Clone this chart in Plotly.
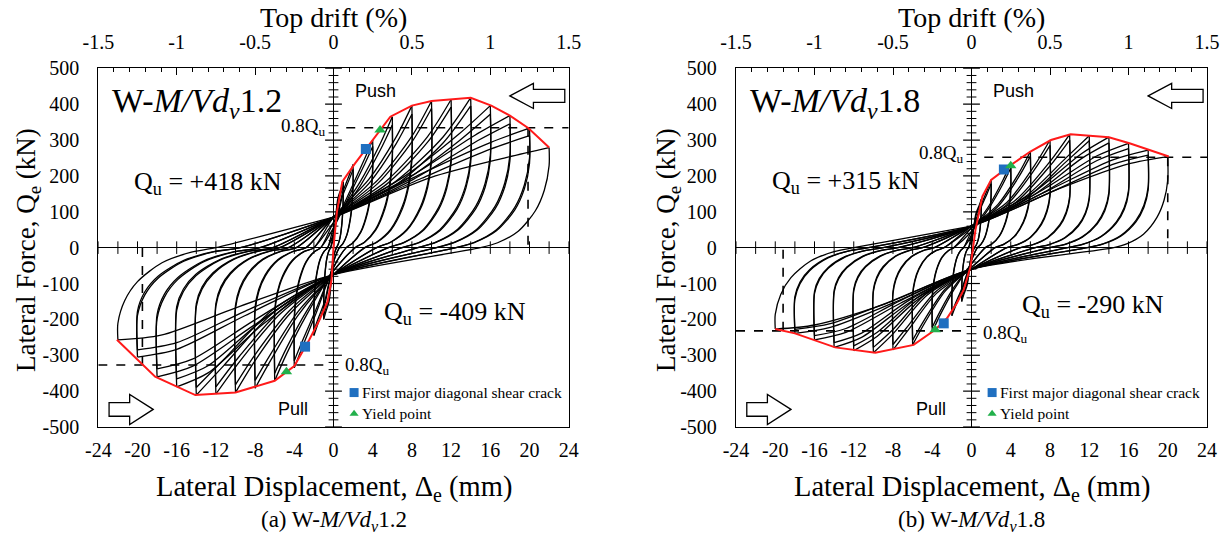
import plotly.graph_objects as go

SERIF = "Liberation Serif"
SANS = "Liberation Sans"

# ---------------- Panel (a): W-M/Vdv1.2 ----------------
a_levels = [1, 2, 4, 6, 8, 10, 12, 14, 16, 18, 20, 22]
a_pos_peak1 = [184, 232, 300, 365, 396, 409, 413, 418, 396, 368, 333, 279]
a_pos_peak2 = [172, 218, 282, 342, 372, 388, 392, 395, 372, 345, 312, None]
a_neg_peak1 = [-200, -245, -335, -371, -392, -404, -408, -411, -388, -360, -305, -257]
a_neg_peak2 = [-188, -230, -315, -350, -370, -382, -388, -390, -366, -338, -285, None]
a_pos_zero = [0.3, 0.6, 1.3, 2.2, 3.2, 4.4, 5.6, 7.0, 8.6, 10.5, 12.5, 15.0]
a_neg_zero = [-0.3, -0.6, -1.3, -2.0, -2.8, -3.8, -4.6, -5.5, -6.2, -7.5, -9.5, -12.0]
a_pos_drop = [0.85, 0.8, 0.75, 0.7, 0.65, 0.62, 0.6, 0.6, 0.65, 0.7, 0.75, 0.82]
a_neg_drop = [0.8, 0.7, 0.6, 0.5, 0.45, 0.42, 0.4, 0.4, 0.45, 0.55, 0.62, 0.82]
a_pos_mid = [0.75, 0.65, 0.55, 0.5, 0.48, 0.46, 0.45, 0.44, 0.5, 0.55, 0.62, 0.7]
a_pos_near = [0.9, 0.87, 0.83, 0.8, 0.78, 0.76, 0.75, 0.74, 0.8, 0.85, 0.88, 0.9]
a_neg_mid = [0.75, 0.65, 0.55, 0.5, 0.48, 0.46, 0.45, 0.45, 0.55, 0.6, 0.62, 0.65]
a_neg_near = [0.9, 0.87, 0.83, 0.8, 0.8, 0.78, 0.78, 0.8, 0.9, 0.92, 0.93, 0.95]
a_pos_pinch = [25, 40, 55, 70, 85, 85, 85, 85, 85, 85, 85, 85]
a_neg_pinch = [-25, -40, -55, -65, -75, -75, -75, -75, -75, -75, -75, -75]
a_env_x = [-22.1, -18.2, -14.1, -10.0, -6.0, -4.0, -2.5, -1.4, -0.6, -0.2, 0.0, 0.35, 0.9, 2.2, 5.8, 8.0, 10.0, 14.0, 16.1, 18.0, 19.9, 22.0]
a_env_y = [-257, -360, -411, -404, -371, -330, -258, -200, -150, -90, 0, 100, 184, 235, 365, 396, 409, 418, 396, 368, 333, 279]
a_qu_pos, a_qu_neg = 418, -409
a_d08_pos, a_d08_neg = 19.85, -19.5
a_crack_x, a_crack_y = [3.3, -2.9], [275, -276]
a_yield_x, a_yield_y = [4.75, -4.8], [328, -346]

# ---------------- Panel (b): W-M/Vdv1.8 ----------------
b_levels = [1, 2, 4, 6, 8, 10, 12, 14, 16, 18, 20]
b_pos_peak1 = [135, 189, 235, 268, 300, 316, 312, 308, 291, 272, 254]
b_pos_peak2 = [128, 178, 222, 255, 285, 300, 298, 292, 276, 258, None]
b_neg_peak1 = [-150, -190, -235, -271, -285, -293, -287, -278, -257, -239, -227]
b_neg_peak2 = [-142, -180, -222, -258, -270, -278, -274, -265, -245, -228, None]
b_pos_zero = [0.3, 0.6, 1.4, 2.4, 3.6, 5.0, 6.5, 8.0, 9.8, 11.8, 14.5]
b_neg_zero = [-0.3, -0.8, -1.8, -2.8, -3.8, -5.0, -6.0, -7.5, -9.0, -10.5, -12.0]
b_pos_drop = [0.85, 0.8, 0.7, 0.6, 0.5, 0.45, 0.45, 0.5, 0.55, 0.62, 0.74]
b_neg_drop = [0.8, 0.7, 0.6, 0.5, 0.45, 0.42, 0.42, 0.45, 0.5, 0.6, 0.82]
b_pos_mid = [0.7, 0.6, 0.5, 0.45, 0.42, 0.42, 0.45, 0.5, 0.55, 0.6, 0.65]
b_pos_near = [0.88, 0.85, 0.8, 0.77, 0.76, 0.76, 0.8, 0.85, 0.88, 0.9, 0.92]
b_neg_mid = [0.7, 0.6, 0.5, 0.45, 0.45, 0.45, 0.5, 0.55, 0.6, 0.65, 0.7]
b_neg_near = [0.88, 0.85, 0.8, 0.78, 0.8, 0.82, 0.86, 0.9, 0.92, 0.93, 0.95]
b_pos_pinch = [20, 35, 45, 55, 60, 60, 60, 60, 60, 60, 60]
b_neg_pinch = [-20, -35, -45, -55, -60, -60, -60, -60, -60, -60, -60]
b_env_x = [-20.0, -18.0, -13.9, -9.8, -5.9, -3.7, -2.5, -1.5, -0.8, -0.1, 0.4, 1.1, 2.0, 4.0, 6.0, 8.1, 10.1, 14.0, 16.1, 18.1, 20.1]
b_env_y = [-227, -239, -278, -293, -271, -229, -197, -155, -118, -53, 49, 142, 189, 230, 268, 300, 316, 308, 291, 272, 254]
b_qu_pos, b_qu_neg = 315, -290
b_d08_pos, b_d08_neg = 20.0, -19.2
b_crack_x, b_crack_y = [3.3, -2.83], [218, -211]
b_yield_x, b_yield_y = [4.0, -3.7], [228, -229]

# axis tick labels
x_ticks = [-24, -20, -16, -12, -8, -4, 0, 4, 8, 12, 16, 20, 24]
y_ticks = [-500, -400, -300, -200, -100, 0, 100, 200, 300, 400, 500]
drift_ticks = [-1.5, -1, -0.5, 0, 0.5, 1, 1.5]
drift_text = ["-1.5", "-1", "-0.5", "0", "0.5", "1", "1.5"]

# shape of the unloading branch (fraction of span, fraction of force) and reloading stations
UNLOAD_S = [0.93, 0.8, 0.55, 0.25]
UNLOAD_G = [0.7, 0.45, 0.2, 0.06]
RELOAD_S = [0.45, 0.8]


def hysteresis(levels, pp1, pp2, np1, np2, pz, nz, pdrop, ndrop, pmid, pnear, nmid, nnear, ppin, npin):
    xs, ys = [], []

    def add(pts):
        for px, py in pts:
            xs.append(px)
            ys.append(py)
        xs.append(None)
        ys.append(None)

    seq = []
    for i, a in enumerate(levels):
        for fp, fn in ((pp1[i], np1[i]), (pp2[i], np2[i])):
            if fp is not None:
                seq.append((i, a, fp, fn))

    def unload_neg(j, b, fnp):
        yd = ndrop[j] * fnp
        pts = [(-b, fnp), (-b, yd)]
        pts += [(nz[j] + (-b - nz[j]) * s, yd * g) for s, g in zip(UNLOAD_S, UNLOAD_G)]
        pts.append((nz[j], 0))
        return pts

    prev = None
    for i, a, fp, fn in seq:
        reload_p = [(RELOAD_S[0] * a, pmid[i] * fp), (RELOAD_S[1] * a, pnear[i] * fp), (a, fp)]
        if prev is None:
            add([(0, 0)] + reload_p)
        else:
            add(unload_neg(*prev) + [(0, ppin[i])] + reload_p)
        yd = pdrop[i] * fp
        pts = [(a, fp), (a, yd)]
        pts += [(pz[i] + (a - pz[i]) * s, yd * g) for s, g in zip(UNLOAD_S, UNLOAD_G)]
        pts += [(pz[i], 0), (0, npin[i]),
                (-RELOAD_S[0] * a, nmid[i] * fn), (-RELOAD_S[1] * a, nnear[i] * fn), (-a, fn)]
        add(pts)
        prev = (i, a, fn)
    add(unload_neg(*prev) + [(0, ppin[prev[0]])])
    return xs, ys


panels = [
    dict(xa="x", ya="y", loops=hysteresis(a_levels, a_pos_peak1, a_pos_peak2, a_neg_peak1, a_neg_peak2,
                                          a_pos_zero, a_neg_zero, a_pos_drop, a_neg_drop, a_pos_mid,
                                          a_pos_near, a_neg_mid, a_neg_near, a_pos_pinch, a_neg_pinch),
         env=(a_env_x, a_env_y), qu=(a_qu_pos, a_qu_neg), d08=(a_d08_pos, a_d08_neg),
         crack=(a_crack_x, a_crack_y), yld=(a_yield_x, a_yield_y), name="1.2", quy=(181, -182),
         lab=(2, -3)),
    dict(xa="x2", ya="y2", loops=hysteresis(b_levels, b_pos_peak1, b_pos_peak2, b_neg_peak1, b_neg_peak2,
                                            b_pos_zero, b_neg_zero, b_pos_drop, b_neg_drop, b_pos_mid,
                                            b_pos_near, b_neg_mid, b_neg_near, b_pos_pinch, b_neg_pinch),
         env=(b_env_x, b_env_y), qu=(b_qu_pos, b_qu_neg), d08=(b_d08_pos, b_d08_neg),
         crack=(b_crack_x, b_crack_y), yld=(b_yield_x, b_yield_y), name="1.8", quy=(182, -164),
         lab=(10, -10)),
]

fig = go.Figure()
annotations = []
shapes = []

for p in panels:
    xa, ya = p["xa"], p["ya"]
    # ticks drawn on the zero axes
    major_y = [v for v in range(-500, 501, 100)]
    minor_y = [v for v in range(-500, 501, 20) if v % 100 != 0]
    fig.add_trace(go.Scatter(x=[0] * len(major_y), y=major_y, xaxis=xa, yaxis=ya, mode="markers",
                             marker=dict(symbol="line-ew", size=12, line=dict(width=1.2, color="black")),
                             hoverinfo="skip"))
    fig.add_trace(go.Scatter(x=[0] * len(minor_y), y=minor_y, xaxis=xa, yaxis=ya, mode="markers",
                             marker=dict(symbol="line-ew", size=7, line=dict(width=1, color="black")),
                             hoverinfo="skip"))
    xt = [v for v in range(-24, 25, 2)]
    fig.add_trace(go.Scatter(x=xt, y=[0] * len(xt), xaxis=xa, yaxis=ya, mode="markers",
                             marker=dict(symbol="line-ns", size=9, line=dict(width=1, color="black")),
                             hoverinfo="skip"))
    # hysteresis loops
    lx, ly = p["loops"]
    fig.add_trace(go.Scatter(x=lx, y=ly, xaxis=xa, yaxis=ya, mode="lines",
                             line=dict(color="black", width=1.3, shape="spline", smoothing=0.8),
                             connectgaps=False, hoverinfo="skip"))
    # 0.8 Qu dashed lines
    qp, qn = p["qu"]
    dp, dn = p["d08"]
    fig.add_trace(go.Scatter(x=[1.3, 24, None, dp, dp], y=[0.8 * qp, 0.8 * qp, None, 0.8 * qp, 0],
                             xaxis=xa, yaxis=ya, mode="lines",
                             line=dict(color="black", width=1.6, dash="dash"), hoverinfo="skip"))
    fig.add_trace(go.Scatter(x=[-24, -0.2, None, dn, dn], y=[0.8 * qn, 0.8 * qn, None, 0.8 * qn, 0],
                             xaxis=xa, yaxis=ya, mode="lines",
                             line=dict(color="black", width=1.6, dash="dash"), hoverinfo="skip"))
    # envelope
    ex, ey = p["env"]
    fig.add_trace(go.Scatter(x=ex, y=ey, xaxis=xa, yaxis=ya, mode="lines",
                             line=dict(color="#ff1a1a", width=2), hoverinfo="skip"))
    # key points
    cx, cy = p["crack"]
    fig.add_trace(go.Scatter(x=cx, y=cy, xaxis=xa, yaxis=ya, mode="markers",
                             marker=dict(symbol="square", size=10, color="#1f6fc0"), hoverinfo="skip"))
    yx, yy = p["yld"]
    fig.add_trace(go.Scatter(x=yx, y=yy, xaxis=xa, yaxis=ya, mode="markers",
                             marker=dict(symbol="triangle-up", size=10, color="#22b04b"), hoverinfo="skip"))
    # legend symbols
    fig.add_trace(go.Scatter(x=[2.1], y=[-404], xaxis=xa, yaxis=ya, mode="markers",
                             marker=dict(symbol="square", size=9, color="#1f6fc0"), hoverinfo="skip"))
    fig.add_trace(go.Scatter(x=[2.1], y=[-463], xaxis=xa, yaxis=ya, mode="markers",
                             marker=dict(symbol="triangle-up", size=8, color="#22b04b"), hoverinfo="skip"))

    def ann(text, x, y, size, font=SERIF, xanchor="center", yanchor="middle"):
        annotations.append(dict(text=text, x=x, y=y, xref=xa, yref=ya, showarrow=False,
                                font=dict(family=font, size=size, color="black"),
                                xanchor=xanchor, yanchor=yanchor))

    ann("First major diagonal shear crack", 2.7, -404, 15.5, xanchor="left")
    ann("Yield point", 2.7, -463, 15.5, xanchor="left")
    ann("W-<i>M/Vd<sub>v</sub></i>" + p["name"], -22.8, 402, 34, xanchor="left")
    ann("Q<sub>u</sub> = +%d kN" % qp, -12.8, p["quy"][0], 26)
    ann("Q<sub>u</sub> = -%d kN" % abs(qn), 12.4, p["quy"][1], 26)
    ann("0.8Q<sub>u</sub>", -0.7, 0.8 * qp + p["lab"][0], 19, xanchor="right")
    ann("0.8Q<sub>u</sub>", 1.0, 0.8 * qn + p["lab"][1], 19, xanchor="left")
    ann("Push", 4.3, 436, 18, font=SANS)
    ann("Pull", -4.1, -450, 18, font=SANS)

    # block arrows
    shapes.append(dict(type="path", xref=xa, yref=ya,
                       path="M 18.0 423 L 20.4 458 L 20.4 441 L 23.6 441 L 23.6 405 L 20.4 405 L 20.4 388 Z",
                       line=dict(color="black", width=1.3), fillcolor="white"))
    shapes.append(dict(type="path", xref=xa, yref=ya,
                       path="M -18.4 -451 L -20.8 -409 L -20.8 -432 L -22.9 -432 L -22.9 -470 L -20.8 -470 L -20.8 -493 Z",
                       line=dict(color="black", width=1.3), fillcolor="white"))

# axis titles / captions (paper coordinates)
W, H = 1229, 546
for cx, ytx, tag, name in [(333.5, 28, "(a)", "1.2"), (971.5, 668, "(b)", "1.8")]:
    annotations.append(dict(text="Top drift (%)", x=cx / W, y=1 - 17 / H, xref="paper", yref="paper",
                            showarrow=False, font=dict(family=SERIF, size=28, color="black"),
                            xanchor="center", yanchor="middle"))
    annotations.append(dict(text="Lateral Displacement, Δ<sub>e</sub> (mm)", x=cx / W, y=1 - 488 / H,
                            xref="paper", yref="paper", showarrow=False,
                            font=dict(family=SERIF, size=28.5, color="black"),
                            xanchor="center", yanchor="middle"))
    annotations.append(dict(text="Lateral Force, Q<sub>e</sub> (kN)", x=ytx / W, y=1 - 250 / H,
                            xref="paper", yref="paper", showarrow=False, textangle=-90,
                            font=dict(family=SERIF, size=27, color="black"), xanchor="center", yanchor="middle"))
    annotations.append(dict(text=tag + " W-<i>M/Vd<sub>v</sub></i>" + name, x=cx / W, y=1 - 521 / H,
                            xref="paper", yref="paper", showarrow=False,
                            font=dict(family=SERIF, size=23, color="black"),
                            xanchor="center", yanchor="middle"))

common_x = dict(range=[-24, 24], tickmode="array", tickvals=x_ticks, ticktext=[str(v) for v in x_ticks],
                ticks="", showline=True, mirror=True, linecolor="black", linewidth=1.3, showgrid=False,
                zeroline=True, zerolinecolor="black", zerolinewidth=1.3, automargin=False,
                tickfont=dict(family=SERIF, size=20, color="black"), ticklabelstandoff=5, fixedrange=True)
common_y = dict(range=[-500, 500], tickmode="array", tickvals=y_ticks, ticktext=[str(v) for v in y_ticks],
                ticks="", showline=True, mirror=True, linecolor="black", linewidth=1.3, showgrid=False,
                zeroline=True, zerolinecolor="black", zerolinewidth=1.3, automargin=False,
                tickfont=dict(family=SERIF, size=20, color="black"), ticklabelstandoff=14, fixedrange=True)
common_top = dict(range=[-1.5, 1.5], tickmode="array", tickvals=drift_ticks, ticktext=drift_text, side="top",
                  ticks="inside", ticklen=7, tickwidth=1.2, tickcolor="black", automargin=False,
                  minor=dict(dtick=0.1, tick0=0, ticks="inside", ticklen=4, tickwidth=1, tickcolor="black"),
                  showline=True, linecolor="black", linewidth=1.3, showgrid=False, zeroline=False,
                  tickfont=dict(family=SERIF, size=20, color="black"), ticklabelstandoff=10, fixedrange=True)

dom_a = [98.3 / W, 568.7 / W]
dom_b = [736.0 / W, 1207.0 / W]
dom_y = [1 - 427.0 / H, 1 - 68.3 / H]

fig.update_layout(
    width=W, height=H, margin=dict(l=0, r=0, t=0, b=0, pad=0, autoexpand=False),
    font=dict(family=SERIF, color="black"),
    paper_bgcolor="white", plot_bgcolor="white", showlegend=False,
    xaxis=dict(domain=dom_a, anchor="y", **common_x),
    yaxis=dict(domain=dom_y, anchor="x", **common_y),
    xaxis2=dict(domain=dom_b, anchor="y2", **common_x),
    yaxis2=dict(domain=dom_y, anchor="x2", **common_y),
    xaxis3=dict(overlaying="x", anchor="y", **common_top),
    xaxis4=dict(overlaying="x2", anchor="y2", **common_top),
    annotations=annotations, shapes=shapes,
)
# invisible traces so the top axes are drawn
fig.add_trace(go.Scatter(x=[-1.5, 1.5], y=[None, None], xaxis="x3", yaxis="y", mode="lines", hoverinfo="skip"))
fig.add_trace(go.Scatter(x=[-1.5, 1.5], y=[None, None], xaxis="x4", yaxis="y2", mode="lines", hoverinfo="skip"))

fig.write_html("out.html", config={"displayModeBar": False},
               post_script="document.body.style.margin='0px';document.body.style.overflow='hidden';")
